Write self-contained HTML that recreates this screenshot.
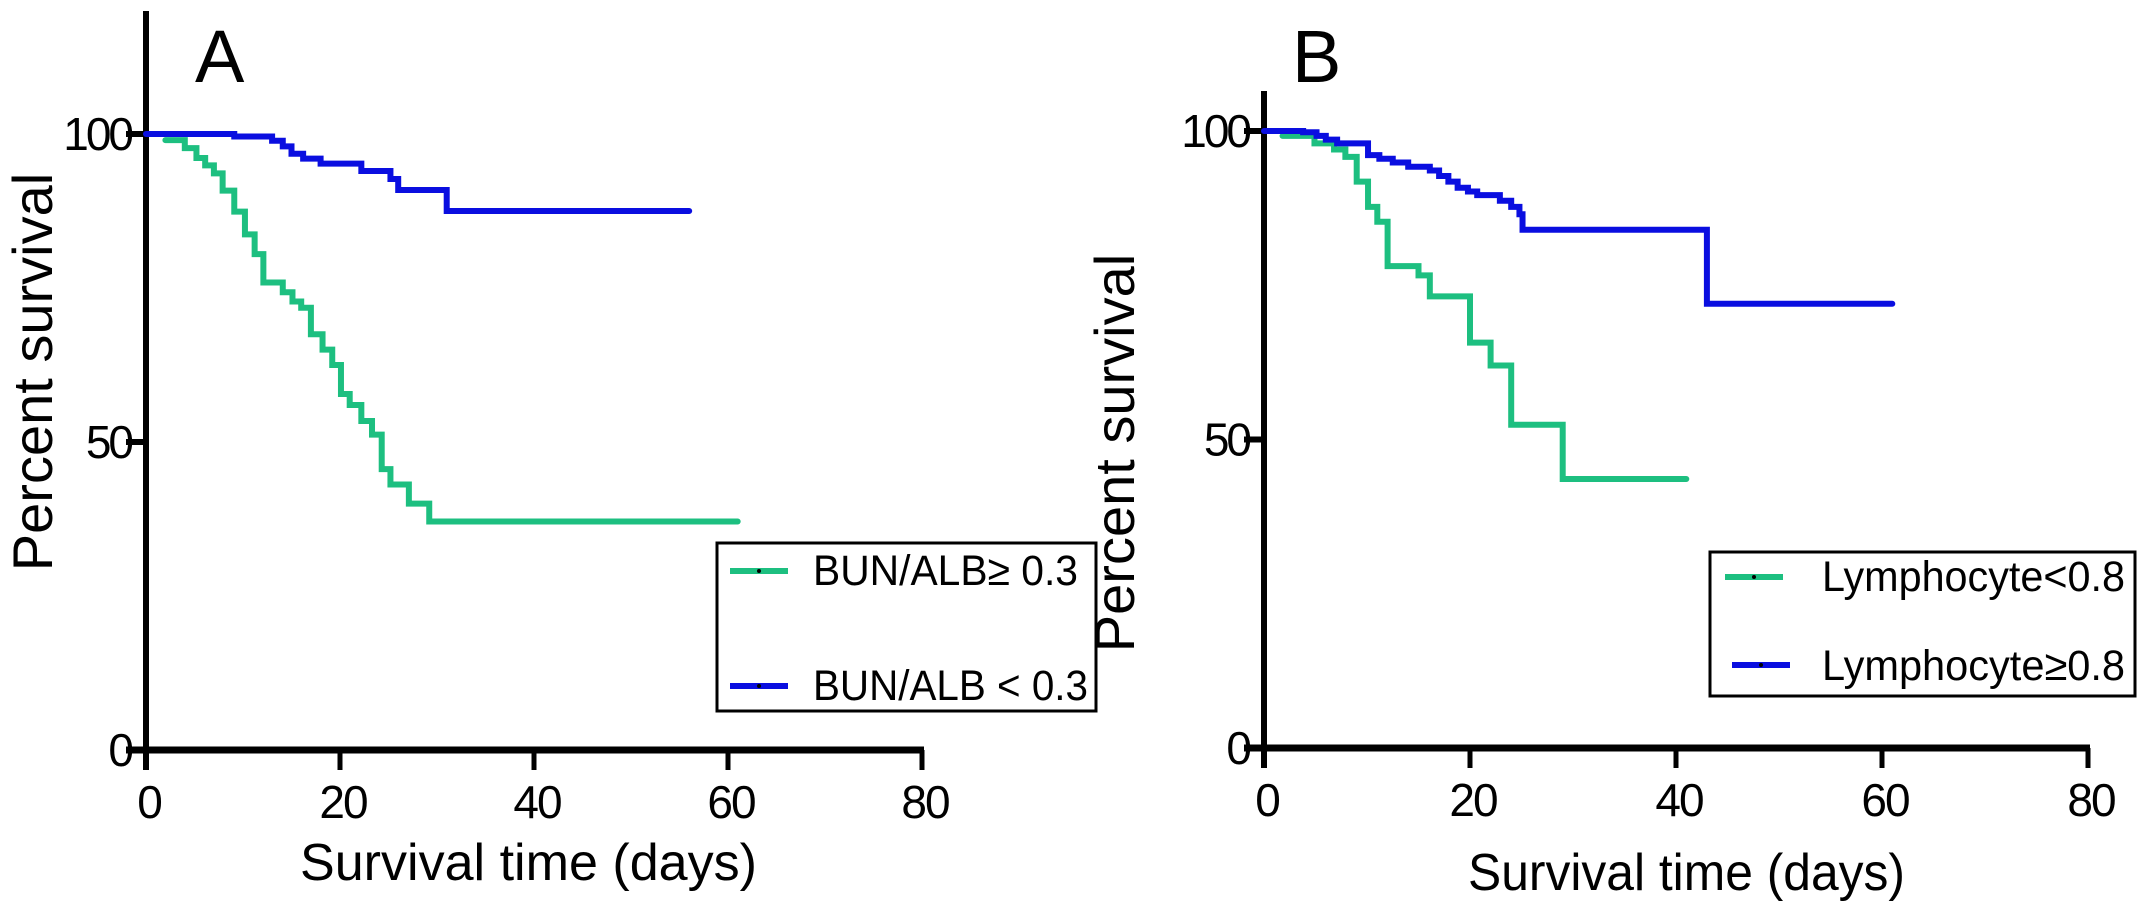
<!DOCTYPE html>
<html><head><meta charset="utf-8"><style>
html,body{margin:0;padding:0;background:#fff;}
svg{display:block;font-family:"Liberation Sans",Arial,sans-serif;}
</style></head><body>
<svg id="chart" width="2138" height="903" viewBox="0 0 2138 903" xmlns="http://www.w3.org/2000/svg"></svg>
<script>
// ---- Panel A data ----
const aTicksX = [0, 20, 40, 60, 80];
const aTicksY = [0, 50, 100];
const aGreenT = [2, 4, 5.2, 6.1, 7, 7.9, 9.1, 10.2, 11.2, 12.1, 14.1, 15.1, 16, 17, 18.2, 19.2, 20.1, 21, 22.2, 23.3, 24.3, 25.2, 27.1, 29.2];
const aGreenS = [99, 97.7, 96.1, 94.9, 93.6, 90.8, 87.4, 83.7, 80.5, 75.9, 74.3, 72.8, 71.8, 67.5, 65, 62.5, 57.8, 56, 53.4, 51.2, 45.6, 43.1, 40, 37.1];
const aGreenEnd = 61;
const aBlueT = [0, 9.1, 13, 14.1, 15, 16.2, 18, 22.2, 25.2, 26, 31];
const aBlueS = [100, 99.6, 98.9, 98, 96.8, 96, 95.2, 94, 92.7, 90.9, 87.5];
const aBlueEnd = 56;
// ---- Panel B data ----
const bTicksX = [0, 20, 40, 60, 80];
const bTicksY = [0, 50, 100];
const bGreenT = [1.8, 4.9, 6.8, 7.9, 9, 10.1, 11, 12, 15, 16.1, 20, 22, 24, 29];
const bGreenS = [99.2, 98, 97, 95.8, 91.8, 87.7, 85.3, 78.1, 76.6, 73.2, 65.7, 62, 52.4, 43.6];
const bGreenEnd = 41;
const bBlueT = [0, 3.8, 5.1, 6, 7.1, 10.1, 11.2, 12.5, 14, 16.1, 17, 17.9, 18.8, 19.8, 20.7, 22.9, 24, 24.8, 25.1, 43];
const bBlueS = [100, 99.8, 99.2, 98.6, 98, 96.1, 95.5, 94.9, 94.2, 93.6, 92.7, 91.8, 90.8, 90.2, 89.6, 88.7, 87.7, 86.5, 84, 72];
const bBlueEnd = 61;

const NS = "http://www.w3.org/2000/svg";
const svg = document.getElementById("chart");
const GREEN = "#1dbf80", BLUE = "#0a0ee0";
function mk(tag, attrs, parent) {
  const e = document.createElementNS(NS, tag);
  for (const k in attrs) e.setAttribute(k, attrs[k]);
  (parent || svg).appendChild(e);
  return e;
}
function panel(p) {
  const g = mk("g", {});
  
  
  const x = d => p.x0 + d * p.dx;
  const y = s => p.y0 - s * p.dy;
  const ya = mk("line", {x1: p.x0, y1: p.yTop, x2: p.x0, y2: p.y0 + 20, stroke: "#000", "stroke-width": 6}, g);
  
  
  const xa = mk("line", {x1: p.x0 - 20, y1: p.y0, x2: x(80) + 2, y2: p.y0, stroke: "#000", "stroke-width": 7}, g);
  
  
  p.ticksX.forEach(t => {
    const tl = mk("line", {x1: x(t), y1: p.y0, x2: x(t), y2: p.y0 + 20, stroke: "#000", "stroke-width": 5}, g);
    
    
    const tx = mk("text", {x: x(t) + 3, y: p.y0 + 68, "font-size": 46, "text-anchor": "middle", "letter-spacing": -2}, g);
    tx.textContent = t;
    
    
  });
  p.ticksY.forEach(t => {
    const tl = mk("line", {x1: p.x0 - 20, y1: y(t), x2: p.x0, y2: y(t), stroke: "#000", "stroke-width": 6}, g);
    
    
    const tx = mk("text", {x: p.x0 - 15, y: y(t) + 16, "font-size": 46, "text-anchor": "end", "letter-spacing": -3}, g);
    tx.textContent = t;
    
    
  });
  function curve(T, S, end, color, name) {
    let d = "M" + x(T[0]) + " " + y(S[0]);
    for (let i = 1; i < T.length; i++) d += " H" + x(T[i]) + " V" + y(S[i]);
    d += " H" + x(end);
    const c = mk("path", {d: d, fill: "none", stroke: color, "stroke-width": 6, "stroke-linecap": "round"}, g);
    
    
  }
  curve(p.gT, p.gS, p.gEnd, GREEN, "green-survival-curve");
  curve(p.bT, p.bS, p.bEnd, BLUE, "blue-survival-curve");
  const xt = mk("text", {x: p.xtX, y: p.xtY, "font-size": 52, textLength: p.xtW, lengthAdjust: "spacingAndGlyphs"}, g);
  xt.textContent = "Survival time (days)";
  
  
  const yt = mk("text", {x: 0, y: 0, "font-size": 56, "text-anchor": "middle", transform: "translate(" + p.ytX + "," + p.ytY + ") rotate(-90)"}, g);
  yt.textContent = "Percent survival";
  
  
  const lt = mk("text", {x: p.letX, y: 82, "font-size": 74}, g);
  lt.textContent = p.letter;
  
  
  const lg = mk("g", {}, g);
  
  
  const r = mk("rect", {x: p.lg.x, y: p.lg.y, width: p.lg.w, height: p.lg.h, fill: "#fff", stroke: "#000", "stroke-width": 3}, lg);
  
  
  p.lg.items.forEach(it => {
    const ln = mk("line", {x1: it.lx, y1: it.ly, x2: it.lx + 58, y2: it.ly, stroke: it.c, "stroke-width": 6}, lg);
    
    
    mk("circle", {cx: it.lx + 29, cy: it.ly, r: 2, fill: "#000"}, lg);
    const tx = mk("text", {x: it.tx, y: it.ty, "font-size": 43, textLength: it.w, lengthAdjust: "spacingAndGlyphs"}, lg);
    tx.textContent = it.t;
    
    
  });
}
panel({name: "panel-a", x0: 146, dx: 9.7, y0: 750, dy: 6.16, yTop: 11,
  ticksX: aTicksX, ticksY: aTicksY,
  gT: aGreenT, gS: aGreenS, gEnd: aGreenEnd, bT: aBlueT, bS: aBlueS, bEnd: aBlueEnd,
  xtX: 300, xtY: 880, xtW: 457, ytX: 52, ytY: 372, letX: 195, letter: "A",
  lg: {x: 717, y: 543, w: 379, h: 168, items: [
    {lx: 730, ly: 571, c: GREEN, tx: 813, ty: 585, w: 265, t: "BUN/ALB\u2265 0.3"},
    {lx: 730, ly: 686, c: BLUE, tx: 813, ty: 700, w: 275, t: "BUN/ALB < 0.3"}]}});
panel({name: "panel-b", x0: 1264, dx: 10.3, y0: 748, dy: 6.17, yTop: 91,
  ticksX: bTicksX, ticksY: bTicksY,
  gT: bGreenT, gS: bGreenS, gEnd: bGreenEnd, bT: bBlueT, bS: bBlueS, bEnd: bBlueEnd,
  xtX: 1468, xtY: 890, xtW: 437, ytX: 1134, ytY: 453, letX: 1292, letter: "B",
  lg: {x: 1710, y: 552, w: 425, h: 144, items: [
    {lx: 1725, ly: 577, c: GREEN, tx: 1822, ty: 591, w: 303, t: "Lymphocyte<0.8"},
    {lx: 1732, ly: 665, c: BLUE, tx: 1822, ty: 680, w: 303, t: "Lymphocyte\u22650.8"}]}});
</script>
</body></html>
